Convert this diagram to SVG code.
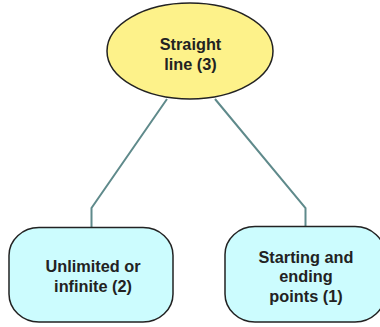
<svg xmlns="http://www.w3.org/2000/svg" width="380" height="327" viewBox="0 0 380 327">
<style>
.n{stroke:#222;stroke-width:1.5}
.t{font-family:"Liberation Sans",Arial,sans-serif;font-size:16.3px;font-weight:bold;fill:#222;text-anchor:middle}
.c{fill:none;stroke:#5f8a8b;stroke-width:2}
</style>
<rect width="380" height="327" fill="#fff"/>
<g id="connectors">
<polyline class="c" points="167,99 91.5,208 91.5,228"/>
<polyline class="c" points="215,99 305.5,208 305.5,226"/>
</g>
<g id="n3">
<ellipse class="n" cx="190" cy="51" rx="83" ry="48" fill="#fdf28a"/>
<text class="t" x="190.5" y="50">Straight</text>
<text class="t" x="190.5" y="69.5">line (3)</text>
</g>
<g id="n2">
<rect class="n" x="9" y="227.5" width="164" height="94.5" rx="30" ry="28" fill="#ccfcfe"/>
<text class="t" x="93" y="272">Unlimited or</text>
<text class="t" x="93" y="292">infinite (2)</text>
</g>
<g id="n1">
<rect class="n" x="225" y="226.5" width="160" height="95.5" rx="30" ry="28" fill="#ccfcfe"/>
<text class="t" x="306" y="262.5">Starting and</text>
<text class="t" x="306" y="282">ending</text>
<text class="t" x="306" y="301.5">points (1)</text>
</g>
</svg>
